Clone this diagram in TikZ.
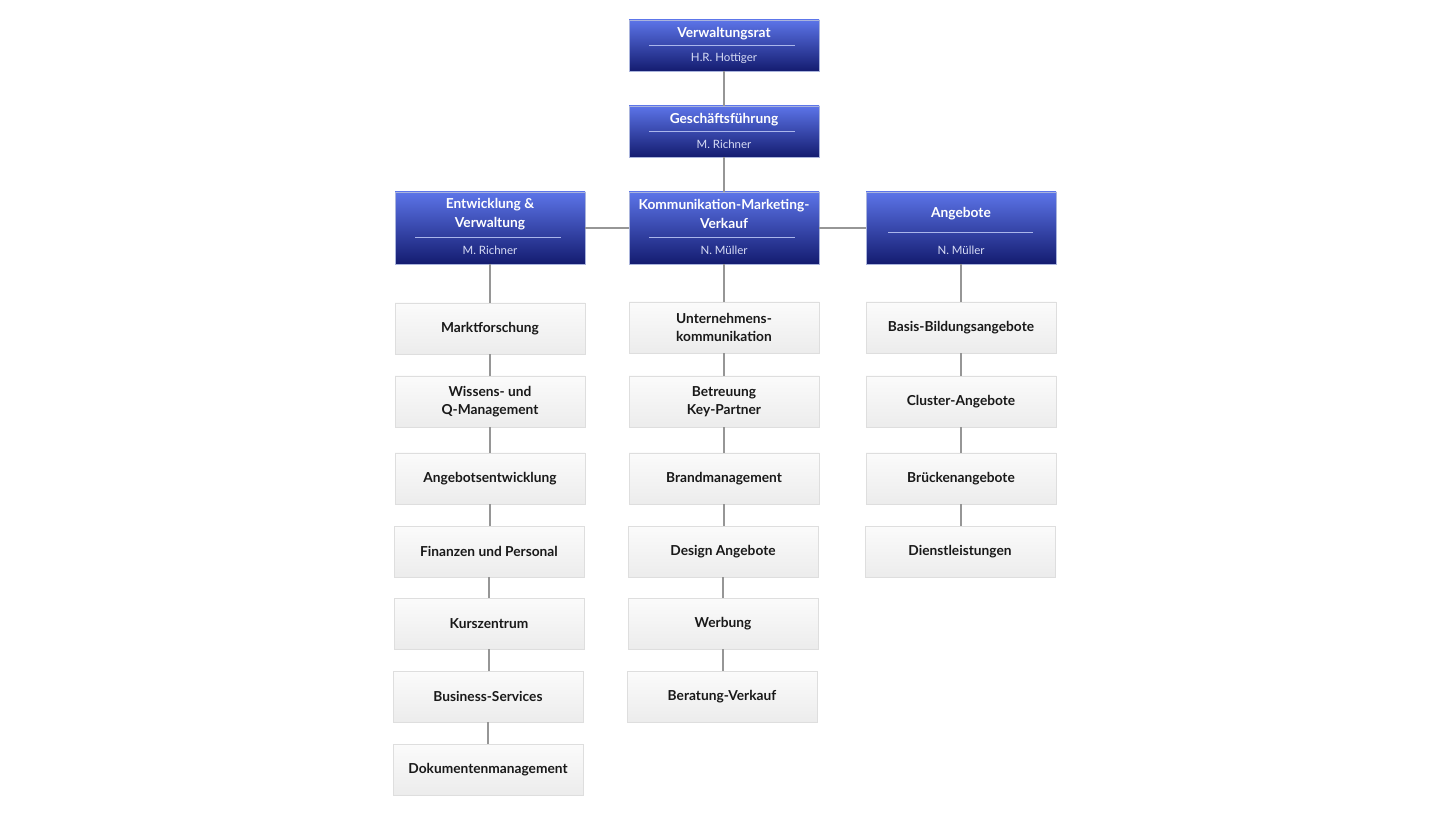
\documentclass[tikz,border=0pt]{standalone}
\usepackage{fontspec}
\setmainfont{Lato}
\definecolor{bluetop}{RGB}{92,116,232}
\definecolor{bluebot}{RGB}{20,28,112}
\definecolor{grtop}{RGB}{251,251,251}
\definecolor{grbot}{RGB}{236,236,236}
\definecolor{grborder}{RGB}{222,222,222}
\definecolor{conn}{RGB}{150,150,150}
\definecolor{sepline}{RGB}{170,182,235}
\definecolor{subtxt}{RGB}{215,220,245}
\definecolor{bluebord}{RGB}{170,180,220}
\begin{document}
\begin{tikzpicture}[x=0.75pt,y=-0.75pt,
  bluebox/.style={draw=bluebord,line width=0.5pt,shading=axis,top color=bluetop,bottom color=bluebot,minimum width=190*0.75pt,inner sep=0pt},
  graybox/.style={draw=grborder,line width=0.5pt,shading=axis,top color=grtop,bottom color=grbot,minimum width=190*0.75pt,minimum height=51*0.75pt,inner sep=0pt,align=center,font=\fontsize{10.3}{13.8}\selectfont\bfseries,text=black!90},
  ttl/.style={text=white,font=\fontsize{10.3}{13.8}\selectfont\bfseries,align=center,inner sep=0pt},
  sub/.style={text=subtxt,font=\fontsize{8.6}{10}\selectfont,inner sep=0pt},
  sep/.style={draw=sepline,line width=0.75pt},
  link/.style={draw=conn,line width=1.1pt}]
\useasboundingbox (0,0) rectangle (1450,816);
% top boxes
\node[bluebox,minimum height=51*0.75pt] (vr) at (724,45.5) {};
\node[ttl] (vrt) at (724,34) {Verwaltungsrat};
\draw[sep] (649,46) -- (795,46);
\node[sub] (vrs) at (724,58.5) {H.R. Hottiger};

\node[bluebox,minimum height=51*0.75pt] (gf) at (724,131.5) {};
\node[ttl] (gft) at (724,120) {Geschäftsführung};
\draw[sep] (649,132) -- (795,132);
\node[sub] (gfs) at (724,144.5) {M. Richner};

% column heads
\node[bluebox,minimum height=72*0.75pt] (ev) at (490,228) {};
\node[ttl] (evt) at (490,214) {Entwicklung \&\\Verwaltung};
\draw[sep] (415,238) -- (561,238);
\node[sub] (evs) at (490,250.5) {M. Richner};

\node[bluebox,minimum height=72*0.75pt] (km) at (724,228) {};
\node[ttl] (kmt) at (724,214) {Kommunikation-Marketing-\\Verkauf};
\draw[sep] (649,238) -- (795,238);
\node[sub] (kms) at (724,250.5) {N. Müller};

\node[bluebox,minimum height=72*0.75pt] (an) at (961,228) {};
\node[ttl] (ant) at (961,214) {Angebote};
\draw[sep] (888,233) -- (1033,233);
\node[sub] (ans) at (961,250.5) {N. Müller};

% left column
\node[graybox] (l1) at (490,328.5) {Marktforschung};
\node[graybox] (l2) at (490,401.5) {Wissens- und\\Q-Management};
\node[graybox] (l3) at (490,478.5) {Angebotsentwicklung};
\node[graybox] (l4) at (489,551.5) {Finanzen und Personal};
\node[graybox] (l5) at (489,623.5) {Kurszentrum};
\node[graybox] (l6) at (488,696.5) {Business-Services};
\node[graybox] (l7) at (488,769.5) {Dokumentenmanagement};

% middle column
\node[graybox] (m1) at (724,327.5) {Unternehmens-\\kommunikation};
\node[graybox] (m2) at (724,401.5) {Betreuung\\Key-Partner};
\node[graybox] (m3) at (724,478.5) {Brandmanagement};
\node[graybox] (m4) at (723,551.5) {Design Angebote};
\node[graybox] (m5) at (723,623.5) {Werbung};
\node[graybox] (m6) at (722,696.5) {Beratung-Verkauf};

% right column
\node[graybox] (r1) at (961,327.5) {Basis-Bildungsangebote};
\node[graybox] (r2) at (961,401.5) {Cluster-Angebote};
\node[graybox] (r3) at (961,478.5) {Brückenangebote};
\node[graybox] (r4) at (960,551.5) {Dienstleistungen};

% connectors
\draw[link] (vr.south) -- (gf.north);
\draw[link] (gf.south) -- (km.north);
\draw[link] (ev.east) -- (km.west);
\draw[link] (km.east) -- (an.west);
\foreach \a/\b in {ev/l1,l1/l2,l2/l3,l3/l4,l4/l5,l5/l6,l6/l7,
                   km/m1,m1/m2,m2/m3,m3/m4,m4/m5,m5/m6,
                   an/r1,r1/r2,r2/r3,r3/r4}
  \draw[link] (\a.south) -- (\a.south |- \b.north);
\end{tikzpicture}
\end{document}
